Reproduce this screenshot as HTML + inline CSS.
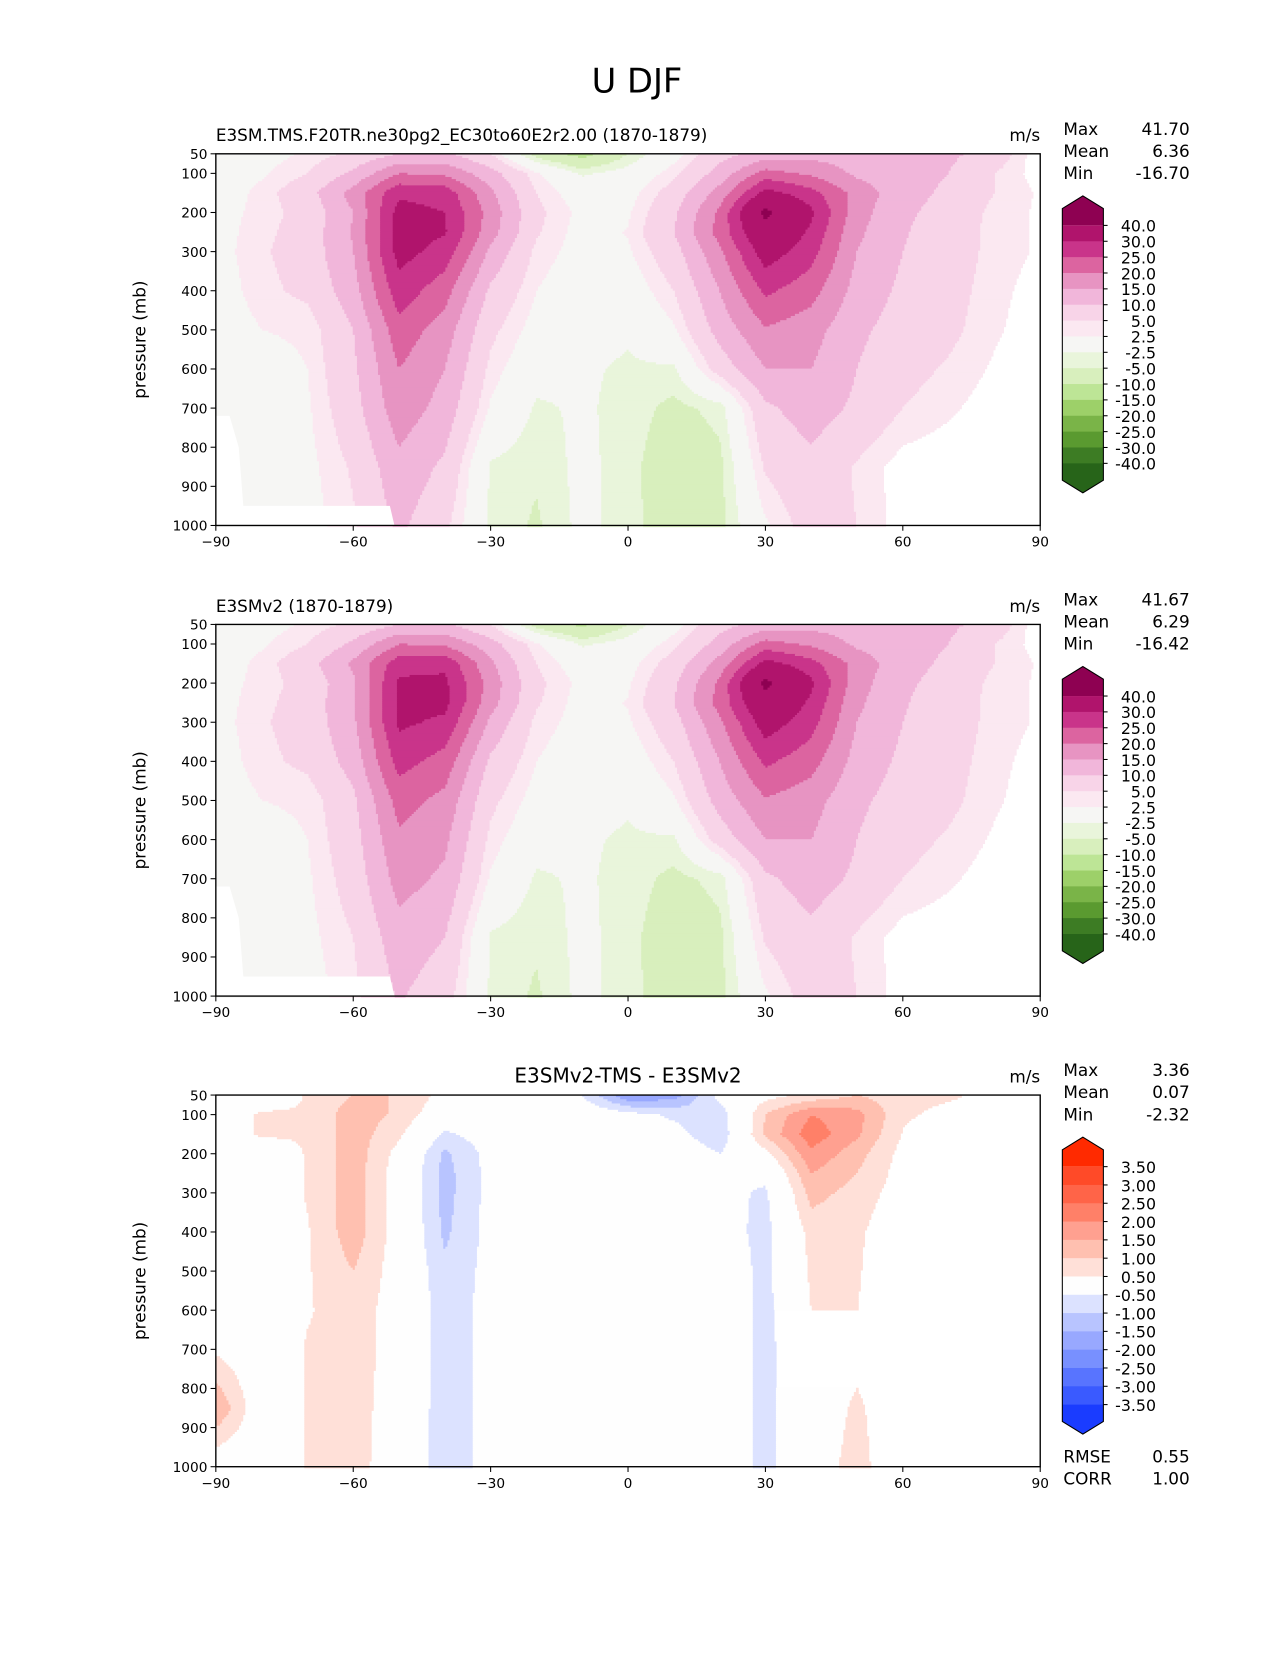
<!DOCTYPE html>
<html><head><meta charset="utf-8"><style>
html,body{margin:0;padding:0;background:#fff;}
svg text{font-family:"DejaVu Sans","Liberation Sans",sans-serif;}
</style></head><body>
<svg id="fig" width="1275" height="1650" viewBox="0 0 1211 1567" xmlns="http://www.w3.org/2000/svg">
<rect width="1211" height="1567" fill="#fff"/>
<text x="605" y="88" font-size="32" text-anchor="middle">U DJF</text>
<g id="panels"></g>
</svg>
<script>
// ---- data ----
const lats = [-90,-80,-70,-60,-50,-40,-30,-20,-10,0,10,20,30,40,50,60,70,80,90];
const levels = [50,100,150,200,250,300,400,500,600,700,850,1000];
const testU = [
[0,1,3,6,10,11,5,-7,-12,-5,1,8,12,13,13,12,11,8,0],
[0,2,5,11,20,19,12,3,-3,-1,4,12,22,19,14,12,10,5,1],
[0,3.5,8,17,29,28,16,5,0,1,7,17,32,27,18,12,9,5,2],
[1,3.5,6.5,15,32,30,18,6,1.5,2,9,21,42,31,17,11,8,4,2],
[1,4,7,15.5,32,30.5,17,5.5,1,2.7,10,22,37,29,16,10.5,7,4,2],
[1,4.5,7,15,32,28,14,4,1,2,8,19,33,27,15,10,7,4,2],
[0.5,4,6,13,28,22,9,2.5,0,0,5,15,26,22,13,9,6.5,3.5,1],
[0,2.5,3,10,23,17.5,6,1,-1,-2,2,12,19.5,17,11,8,6,3,0.5],
[-0.5,1,2.5,9,20,15,4,-1,-2,-3,-3,7,15,15,10,6.5,4.5,2,0],
[-1,0.5,2,8,18,13,2,-3,-2,-3.5,-6,-4,9,12.5,9,5,3,1,0],
[0,0,1.5,5.5,13.5,9,-3,-4.5,-1.5,-4,-7.5,-6,5.5,8.5,4.5,1,0.5,0,0],
[0,0,1,4.5,11,6,-3,-5.5,-1.5,-4,-7,-6,2,7,5,1,0,0,0]];
const refU = [
[0,1,3,6,10,11,5,-7,-11,-5,1,8,12,13,13,12,11,8,0],
[0,2,5,11,20,19,12,3,-3,-1,4,12,22,19,14,12,10,5,1],
[0,3.5,8,16,28,29,16,5,0,1,7,17,32,27,18,12,9,5,2],
[1,3.5,6.5,14,31,31,18,6,1.5,2,9,21,42,31,17,11,8,4,2],
[1,4,7,14.5,31,31.5,17,5.5,1,2.7,10,22,37,29,16,10.5,7,4,2],
[1,4.5,7,14,31,29,14,4,1,2,8,19,33,27,15,10,7,4,2],
[0.5,4,6,12,27,23,9,2.5,0,0,5,15,26,22,13,9,6.5,3.5,1],
[0,2.5,3,9,22,18.5,6,1,-1,-2,2,12,19.5,17,11,8,6,3,0.5],
[-0.5,1,2.5,8,19,16,4,-1,-2,-3,-3,7,15,15,10,6.5,4.5,2,0],
[-1,0.5,2,7,17,14,2,-3,-2,-3.5,-6,-4,9,12.5,9,5,3,1,0],
[0,0,1.5,5,13,10,-3,-4.5,-1.5,-4,-7.5,-6,5.5,8.5,4.5,1,0.5,0,0],
[0,0,1,4,10.5,7,-3,-5.5,-1.5,-4,-7,-6,2,7,5,1,0,0,0]];
const diffU = [
[0,0,0.55,1.0,1.0,0.3,0,0,-0.5,-2,-1.8,-0.3,0.3,0.6,1.0,0.7,0.6,0.3,0],
[0,0.6,0.55,1.3,0.9,0,0,0,0,-0.3,-0.6,-0.8,1.0,2.0,1.7,0.6,0.3,0,0],
[0,0.6,0.55,1.3,0.6,-0.6,-0.2,0,0,0,-0.3,-0.9,1.1,2.3,1.6,0.45,0,0,0],
[0,0,0.55,1.3,0.3,-1.1,-0.3,0,0,0,0,-0.5,0.3,1.9,1.2,0.3,0,0,0],
[0,0,0.55,1.3,0.2,-1.2,-0.3,0,0,0,0,-0.4,-0.3,1.5,1.0,0.25,0,0,0],
[0,0,0.55,1.3,0.2,-1.2,-0.3,0,0,0,0,-0.3,-0.6,1.2,0.8,0.2,0,0,0],
[0,0,0.45,1.3,0.2,-1.1,-0.3,0,0,0,0,-0.2,-0.7,0.7,0.6,0,0,0,0],
[0,0,0.45,1.0,0.2,-0.9,-0.3,0,0,0,0,0,-0.7,0.6,0.55,0,0,0,0],
[0,0,0.45,0.8,0.2,-0.8,-0.3,0,0,0,0,0,-0.7,0.5,0.5,0,0,0,0],
[0.4,0,0.55,0.8,0.2,-0.8,-0.3,0,0,0,0,0,-0.7,0.2,0.3,0,0,0,0],
[1.5,0,0.55,0.8,0.1,-0.8,-0.3,0,0,0,0,0,-0.7,0.1,0.6,0,0,0,0],
[0,0,0.55,0.8,0,-0.8,-0.3,0,0,0,0,0,-0.7,0.2,0.7,0,0,0,0]];
const uBounds = [-40,-30,-25,-20,-15,-10,-5,-2.5,2.5,5,10,15,20,25,30,40];
const uColors = ["#276419","#3d7c24","#5a9a30","#7ab448","#9dd069","#bde596","#d8efbd","#e9f5db","#f6f6f4","#fbe8f1","#f8d4e8","#f1b6da","#e794c2","#dc64a0","#c9348a","#b0146c","#8e0152"];
const uLabels = ["40.0","30.0","25.0","20.0","15.0","10.0","5.0","2.5","-2.5","-5.0","-10.0","-15.0","-20.0","-25.0","-30.0","-40.0"];
const dBounds = [-3.5,-3,-2.5,-2,-1.5,-1,-0.5,0.5,1,1.5,2,2.5,3,3.5];
const dColors = ["#1a3cff","#3a5aff","#5874ff","#7890ff","#98a8ff","#b8c4ff","#dce2ff","#fefefe","#ffe0d8","#ffc0b0","#ffa090","#ff8068","#ff6448","#ff4a28","#ff2a00"];
const dLabels = ["3.50","3.00","2.50","2.00","1.50","1.00","0.50","-0.50","-1.00","-1.50","-2.00","-2.50","-3.00","-3.50"];
const xTicks = [-90,-60,-30,0,30,60,90];
const yTicks = [50,100,200,300,400,500,600,700,800,900,1000];
const stats1 = ["41.70","6.36","-16.70"], stats2 = ["41.67","6.29","-16.42"], stats3 = ["3.36","0.07","-2.32"];

const NS="http://www.w3.org/2000/svg";
const root=document.getElementById('panels');
function mk(tag,attrs,parent,text){const e=document.createElementNS(NS,tag);for(const k in attrs)e.setAttribute(k,attrs[k]);if(text!==undefined)e.textContent=text;(parent||root).appendChild(e);return e;}
const X0=205,X1=988,H=353;
function xs(lat){return X0+(lat+90)/180*(X1-X0);}
function ysF(top){return p=>top+(p-50)/950*H;}
function sample(grid,lat,p){
  let i=Math.min(lats.length-2,Math.max(0,Math.floor((lat+90)/10)));
  let fx=(lat-lats[i])/10;
  let j=0;while(j<levels.length-2&&p>levels[j+1])j++;
  let fy=(p-levels[j])/(levels[j+1]-levels[j]);
  fx=Math.max(0,Math.min(1,fx));fy=Math.max(0,Math.min(1,fy));
  // smoothstep-free bilinear
  const a=grid[j][i],b=grid[j][i+1],c=grid[j+1][i],d=grid[j+1][i+1];
  return a*(1-fx)*(1-fy)+b*fx*(1-fy)+c*(1-fx)*fy+d*fx*fy;
}
function colorOf(v,bounds,colors){let k=0;while(k<bounds.length&&v>bounds[k])k++;return colors[k];}

function panel(top,grid,bounds,colors,labels,title,titleAnchor,stats,name){
  const g=mk('g',{});
  
  
  const ys=ysF(top);
  const cg=mk('g',{},g);
  
  
  const step=2;
  for(let py=0;py<H;py+=step){
    const p=50+(py+step/2)/H*950;
    let runStart=0,runCol=null;
    for(let px=0;px<=X1-X0;px+=step){
      let col=null;
      if(px<X1-X0){const lat=-90+(px+step/2)/(X1-X0)*180;col=colorOf(sample(grid,lat,p),bounds,colors);}
      if(col!==runCol){
        if(runCol!==null) mk('rect',{x:X0+runStart,y:top+py,width:px-runStart+0.6,height:step+0.6,fill:runCol},cg);
        runStart=px;runCol=col;
      }
    }
  }
  if(name!=='diff-panel'){
    const ant=mk('polygon',{points:`${xs(-90)},${ys(720)} ${xs(-87)},${ys(720)} ${xs(-85)},${ys(800)} ${xs(-84)},${ys(950)} ${xs(-52)},${ys(950)} ${xs(-51)},${ys(1000)} ${xs(-90)},${ys(1000)}`,fill:'#fff'},g);
    
    
  }
  mk('rect',{x:X0,y:top,width:X1-X0,height:H,fill:'none',stroke:'#000','stroke-width':1.3},g);
  xTicks.forEach(t=>{
    mk('line',{x1:xs(t),x2:xs(t),y1:top+H,y2:top+H+5,stroke:'#000'},g);
    const tl=mk('text',{x:xs(t),y:top+H+20,'font-size':13,'text-anchor':'middle'},g,t===0?'0':'\u2212'.repeat(t<0?1:0)+Math.abs(t));
    
    
  });
  yTicks.forEach(t=>{
    mk('line',{x1:X0-5,x2:X0,y1:ys(t),y2:ys(t),stroke:'#000'},g);
    const tl=mk('text',{x:X0-8,y:ys(t)+5,'font-size':13,'text-anchor':'end'},g,String(t));
    
    
  });
  const yl=mk('text',{x:138,y:top+H/2,'font-size':16,'text-anchor':'middle',transform:`rotate(-90 138 ${top+H/2})`},g,'pressure (mb)');
  
  
  const tt=mk('text',{x:titleAnchor==='middle'?(X0+X1)/2:X0,y:top-12,'font-size':titleAnchor==='middle'?19:16,'text-anchor':titleAnchor},g,title);
  
  
  const un=mk('text',{x:X1,y:top-12,'font-size':16,'text-anchor':'end'},g,'m/s');
  
  
  ['Max','Mean','Min'].forEach((s,i)=>{
    const a=mk('text',{x:1010,y:top-18+i*21,'font-size':16},g,s);
    
    
    const b=mk('text',{x:1130,y:top-18+i*21,'font-size':16,'text-anchor':'end'},g,stats[i]);
    
    
  });
  const cb=mk('g',{},g);
  
  
  const L=1009,R=1048,M=(L+R)/2;
  const n=labels.length;
  const cTop=top+68, cBot=top+294;
  const dy=(cBot-cTop)/(n-1);
  mk('polygon',{points:`${L},${cTop} ${L},${cTop-16} ${M},${cTop-28} ${R},${cTop-16} ${R},${cTop}`,fill:colors[colors.length-1]},cb);
  for(let k=0;k<n-1;k++){
    mk('rect',{x:L,y:cTop+k*dy,width:R-L,height:dy+0.5,fill:colors[colors.length-2-k]},cb);
  }
  mk('polygon',{points:`${L},${cBot} ${L},${cBot+16} ${M},${cBot+28} ${R},${cBot+16} ${R},${cBot}`,fill:colors[0]},cb);
  mk('polygon',{points:`${L},${cTop-16} ${M},${cTop-28} ${R},${cTop-16} ${R},${cBot+16} ${M},${cBot+28} ${L},${cBot+16}`,fill:'none',stroke:'#000','stroke-width':1},cb);
  labels.forEach((lb,k)=>{
    mk('line',{x1:R,x2:R+4,y1:cTop+k*dy,y2:cTop+k*dy,stroke:'#000'},cb);
    const t=mk('text',{x:1098,y:cTop+k*dy+6,'font-size':15,'text-anchor':'end'},cb,lb);
    
    
  });
}
panel(146,testU,uBounds,uColors,uLabels,'E3SM.TMS.F20TR.ne30pg2_EC30to60E2r2.00 (1870-1879)','start',stats1,'test-panel');
panel(593,refU,uBounds,uColors,uLabels,'E3SMv2 (1870-1879)','start',stats2,'ref-panel');
panel(1040,diffU,dBounds,dColors,dLabels,'E3SMv2-TMS - E3SMv2','middle',stats3,'diff-panel');
[['RMSE','0.55',1389],['CORR','1.00',1410]].forEach(r=>{
  const a=mk('text',{x:1010,y:r[2],'font-size':16},root,r[0]);
  
  
  const b=mk('text',{x:1130,y:r[2],'font-size':16,'text-anchor':'end'},root,r[1]);
  
  
});
</script>
</body></html>
